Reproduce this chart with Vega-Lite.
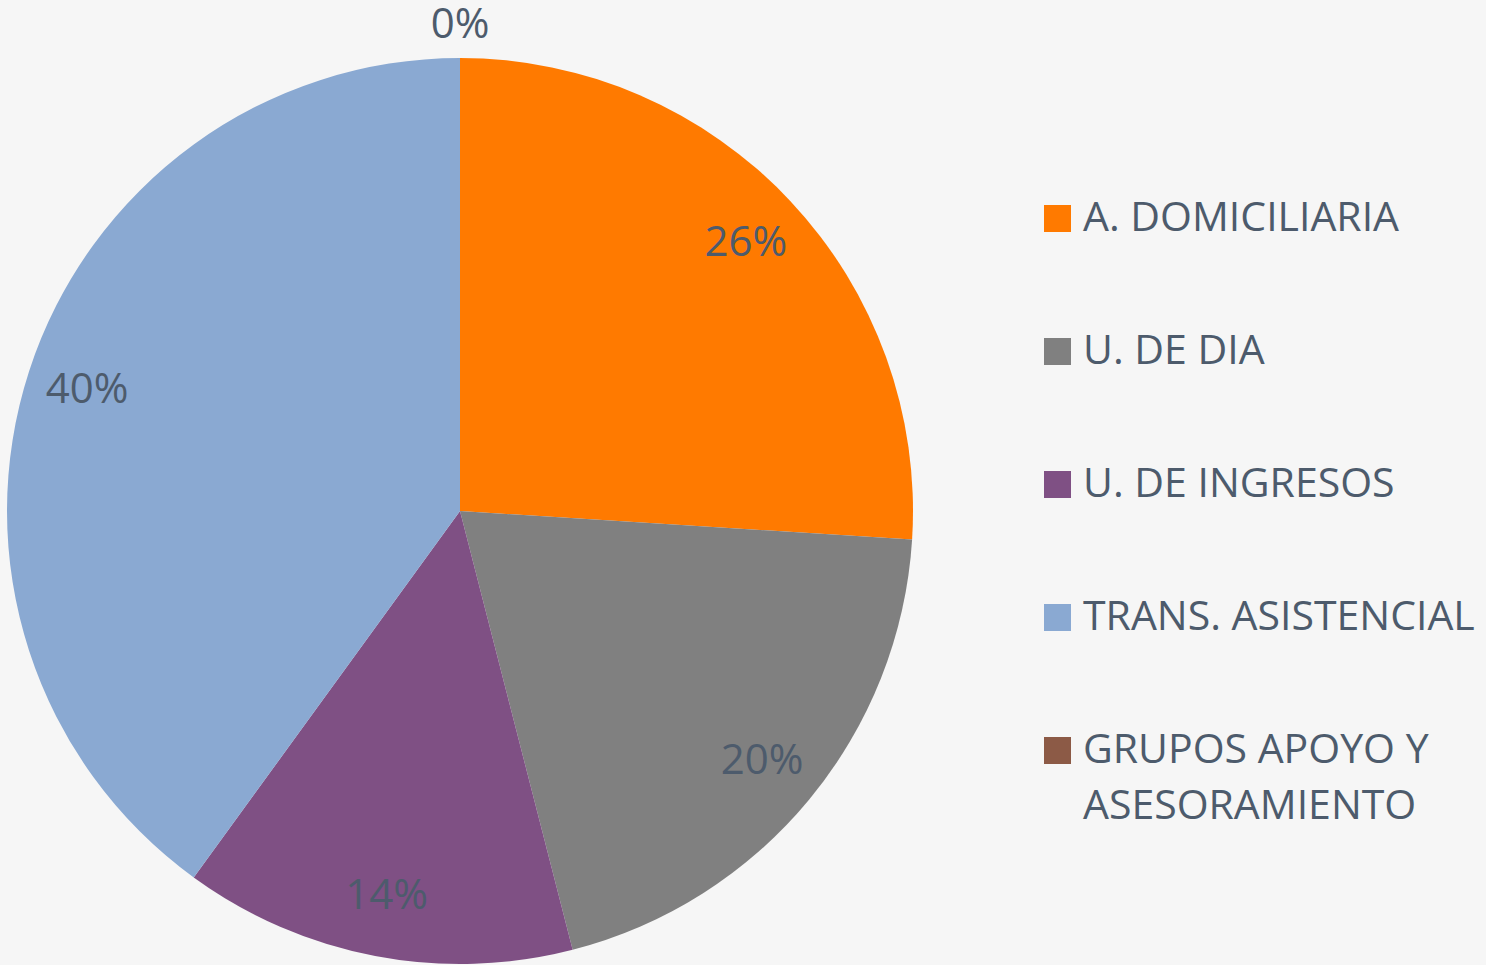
{
  "$schema": "https://vega.github.io/schema/vega-lite/v6.json",
  "width": 920,
  "height": 908,
  "autosize": {"type": "none"},
  "padding": {"left": 0, "top": 57, "right": 566, "bottom": 0},
  "background": "#f6f6f6",
  "config": {"view": {"stroke": null}},
  "data": {
    "values": [
      {"categoria": "A. DOMICILIARIA", "porcentaje": 0.26, "orden": 1},
      {"categoria": "U. DE DIA", "porcentaje": 0.20, "orden": 2},
      {"categoria": "U. DE INGRESOS", "porcentaje": 0.14, "orden": 3},
      {"categoria": "TRANS. ASISTENCIAL", "porcentaje": 0.40, "orden": 4},
      {"categoria": "GRUPOS APOYO Y ASESORAMIENTO", "porcentaje": 0.0, "orden": 5}
    ]
  },
  "encoding": {
    "theta": {"field": "porcentaje", "type": "quantitative", "stack": true},
    "order": {"field": "orden", "type": "quantitative"}
  },
  "layer": [
    {
      "mark": {"type": "arc", "outerRadius": 453},
      "encoding": {
        "color": {
          "field": "categoria",
          "type": "nominal",
          "sort": null,
          "scale": {
            "domain": ["A. DOMICILIARIA", "U. DE DIA", "U. DE INGRESOS", "TRANS. ASISTENCIAL", "GRUPOS APOYO Y ASESORAMIENTO"],
            "range": ["#ff7a00", "#808080", "#7f5084", "#8aa9d2", "#8c5a46"]
          },
          "legend": {
            "title": null,
            "orient": "none",
            "legendX": 1037,
            "legendY": 141,
            "padding": 0,
            "symbolType": "square",
            "symbolSize": 729,
            "symbolStrokeWidth": 0,
            "symbolOpacity": 1,
            "labelFont": "Open Sans",
            "labelFontSize": 41,
            "labelColor": "#4d5b6c",
            "labelOffset": 5,
            "labelLimit": 600,
            "rowPadding": 91,
            "labelExpr": "datum.label == 'GRUPOS APOYO Y ASESORAMIENTO' ? ['GRUPOS APOYO Y', 'ASESORAMIENTO'] : datum.label",
            "encode": {"labels": {"update": {"lineHeight": {"value": 56}}}}
          }
        }
      }
    },
    {
      "transform": [{"filter": "datum.porcentaje > 0"}],
      "mark": {"type": "text", "font": "Open Sans", "fontSize": 42, "radius": 392},
      "encoding": {
        "text": {"field": "porcentaje", "type": "quantitative", "format": ".0%"},
        "color": {"value": "#4d5b6c"}
      }
    },
    {
      "transform": [{"filter": "datum.porcentaje == 0"}],
      "mark": {"type": "text", "font": "Open Sans", "fontSize": 42, "radius": 486},
      "encoding": {
        "text": {"field": "porcentaje", "type": "quantitative", "format": ".0%"},
        "color": {"value": "#4d5b6c"}
      }
    }
  ]
}
